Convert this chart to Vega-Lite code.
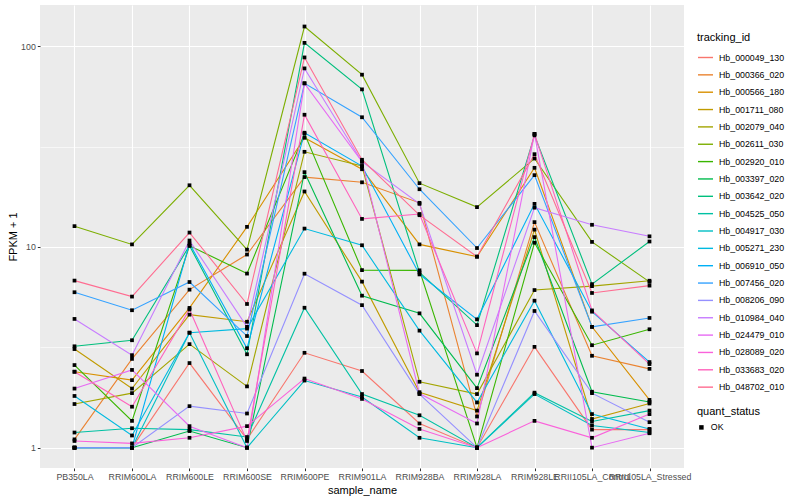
{
"$schema": "https://vega.github.io/schema/vega-lite/v6.json",
"width": 644, "height": 463,
"autosize": {"type": "none"},
"padding": {"left": 40, "top": 5, "right": 116, "bottom": 32},
"background": "white",
"config": {
  "view": {"fill": "#EBEBEB", "stroke": null},
  "font": "Liberation Sans",
  "axis": {"domain": false, "grid": true, "gridColor": "white", "gridWidth": 1.1, "tickColor": "#333333", "tickSize": 2.7, "tickWidth": 1, "labelFontSize": 8.8, "labelColor": "#4D4D4D", "labelFont": "Liberation Sans", "labelPadding": 2, "titleFont": "Liberation Sans", "titleFontSize": 11, "titleFontWeight": "normal", "titleColor": "black"},
  "legend": {"titleFont": "Liberation Sans", "titleFontSize": 11, "titleFontWeight": "normal", "titleColor": "black", "labelFont": "Liberation Sans", "labelFontSize": 8.8, "labelColor": "black", "titlePadding": 6, "labelOffset": 5}
},
"data": {"values": [
{"tracking_id":"Hb_000049_130","sample_name":"PB350LA","fpkm_plus_1":1,"quant_status":"OK"},
{"tracking_id":"Hb_000049_130","sample_name":"RRIM600LA","fpkm_plus_1":1,"quant_status":"OK"},
{"tracking_id":"Hb_000049_130","sample_name":"RRIM600LE","fpkm_plus_1":2.64,"quant_status":"OK"},
{"tracking_id":"Hb_000049_130","sample_name":"RRIM600SE","fpkm_plus_1":1.1,"quant_status":"OK"},
{"tracking_id":"Hb_000049_130","sample_name":"RRIM600PE","fpkm_plus_1":2.97,"quant_status":"OK"},
{"tracking_id":"Hb_000049_130","sample_name":"RRIM901LA","fpkm_plus_1":2.41,"quant_status":"OK"},
{"tracking_id":"Hb_000049_130","sample_name":"RRIM928BA","fpkm_plus_1":1.32,"quant_status":"OK"},
{"tracking_id":"Hb_000049_130","sample_name":"RRIM928LA","fpkm_plus_1":1,"quant_status":"OK"},
{"tracking_id":"Hb_000049_130","sample_name":"RRIM928LE","fpkm_plus_1":3.18,"quant_status":"OK"},
{"tracking_id":"Hb_000049_130","sample_name":"RRII105LA_Control","fpkm_plus_1":1.23,"quant_status":"OK"},
{"tracking_id":"Hb_000049_130","sample_name":"RRII105LA_Stressed","fpkm_plus_1":1.23,"quant_status":"OK"},
{"tracking_id":"Hb_000366_020","sample_name":"PB350LA","fpkm_plus_1":1.1,"quant_status":"OK"},
{"tracking_id":"Hb_000366_020","sample_name":"RRIM600LA","fpkm_plus_1":2.77,"quant_status":"OK"},
{"tracking_id":"Hb_000366_020","sample_name":"RRIM600LE","fpkm_plus_1":6.13,"quant_status":"OK"},
{"tracking_id":"Hb_000366_020","sample_name":"RRIM600SE","fpkm_plus_1":9.17,"quant_status":"OK"},
{"tracking_id":"Hb_000366_020","sample_name":"RRIM600PE","fpkm_plus_1":22.3,"quant_status":"OK"},
{"tracking_id":"Hb_000366_020","sample_name":"RRIM901LA","fpkm_plus_1":21.0,"quant_status":"OK"},
{"tracking_id":"Hb_000366_020","sample_name":"RRIM928BA","fpkm_plus_1":16.6,"quant_status":"OK"},
{"tracking_id":"Hb_000366_020","sample_name":"RRIM928LA","fpkm_plus_1":1.43,"quant_status":"OK"},
{"tracking_id":"Hb_000366_020","sample_name":"RRIM928LE","fpkm_plus_1":13.3,"quant_status":"OK"},
{"tracking_id":"Hb_000366_020","sample_name":"RRII105LA_Control","fpkm_plus_1":2.87,"quant_status":"OK"},
{"tracking_id":"Hb_000366_020","sample_name":"RRII105LA_Stressed","fpkm_plus_1":2.47,"quant_status":"OK"},
{"tracking_id":"Hb_000566_180","sample_name":"PB350LA","fpkm_plus_1":2.39,"quant_status":"OK"},
{"tracking_id":"Hb_000566_180","sample_name":"RRIM600LA","fpkm_plus_1":2.17,"quant_status":"OK"},
{"tracking_id":"Hb_000566_180","sample_name":"RRIM600LE","fpkm_plus_1":4.97,"quant_status":"OK"},
{"tracking_id":"Hb_000566_180","sample_name":"RRIM600SE","fpkm_plus_1":12.6,"quant_status":"OK"},
{"tracking_id":"Hb_000566_180","sample_name":"RRIM600PE","fpkm_plus_1":35.0,"quant_status":"OK"},
{"tracking_id":"Hb_000566_180","sample_name":"RRIM901LA","fpkm_plus_1":24.4,"quant_status":"OK"},
{"tracking_id":"Hb_000566_180","sample_name":"RRIM928BA","fpkm_plus_1":10.3,"quant_status":"OK"},
{"tracking_id":"Hb_000566_180","sample_name":"RRIM928LA","fpkm_plus_1":8.95,"quant_status":"OK"},
{"tracking_id":"Hb_000566_180","sample_name":"RRIM928LE","fpkm_plus_1":24.8,"quant_status":"OK"},
{"tracking_id":"Hb_000566_180","sample_name":"RRII105LA_Control","fpkm_plus_1":4.0,"quant_status":"OK"},
{"tracking_id":"Hb_000566_180","sample_name":"RRII105LA_Stressed","fpkm_plus_1":1.73,"quant_status":"OK"},
{"tracking_id":"Hb_001711_080","sample_name":"PB350LA","fpkm_plus_1":3.1,"quant_status":"OK"},
{"tracking_id":"Hb_001711_080","sample_name":"RRIM600LA","fpkm_plus_1":1.97,"quant_status":"OK"},
{"tracking_id":"Hb_001711_080","sample_name":"RRIM600LE","fpkm_plus_1":4.6,"quant_status":"OK"},
{"tracking_id":"Hb_001711_080","sample_name":"RRIM600SE","fpkm_plus_1":4.24,"quant_status":"OK"},
{"tracking_id":"Hb_001711_080","sample_name":"RRIM600PE","fpkm_plus_1":18.9,"quant_status":"OK"},
{"tracking_id":"Hb_001711_080","sample_name":"RRIM901LA","fpkm_plus_1":6.72,"quant_status":"OK"},
{"tracking_id":"Hb_001711_080","sample_name":"RRIM928BA","fpkm_plus_1":1.89,"quant_status":"OK"},
{"tracking_id":"Hb_001711_080","sample_name":"RRIM928LA","fpkm_plus_1":1.53,"quant_status":"OK"},
{"tracking_id":"Hb_001711_080","sample_name":"RRIM928LE","fpkm_plus_1":12.2,"quant_status":"OK"},
{"tracking_id":"Hb_001711_080","sample_name":"RRII105LA_Control","fpkm_plus_1":1.39,"quant_status":"OK"},
{"tracking_id":"Hb_001711_080","sample_name":"RRII105LA_Stressed","fpkm_plus_1":1.66,"quant_status":"OK"},
{"tracking_id":"Hb_002079_040","sample_name":"PB350LA","fpkm_plus_1":1.65,"quant_status":"OK"},
{"tracking_id":"Hb_002079_040","sample_name":"RRIM600LA","fpkm_plus_1":1.87,"quant_status":"OK"},
{"tracking_id":"Hb_002079_040","sample_name":"RRIM600LE","fpkm_plus_1":3.28,"quant_status":"OK"},
{"tracking_id":"Hb_002079_040","sample_name":"RRIM600SE","fpkm_plus_1":2.02,"quant_status":"OK"},
{"tracking_id":"Hb_002079_040","sample_name":"RRIM600PE","fpkm_plus_1":29.8,"quant_status":"OK"},
{"tracking_id":"Hb_002079_040","sample_name":"RRIM901LA","fpkm_plus_1":25.3,"quant_status":"OK"},
{"tracking_id":"Hb_002079_040","sample_name":"RRIM928BA","fpkm_plus_1":2.13,"quant_status":"OK"},
{"tracking_id":"Hb_002079_040","sample_name":"RRIM928LA","fpkm_plus_1":1.85,"quant_status":"OK"},
{"tracking_id":"Hb_002079_040","sample_name":"RRIM928LE","fpkm_plus_1":6.1,"quant_status":"OK"},
{"tracking_id":"Hb_002079_040","sample_name":"RRII105LA_Control","fpkm_plus_1":6.38,"quant_status":"OK"},
{"tracking_id":"Hb_002079_040","sample_name":"RRII105LA_Stressed","fpkm_plus_1":6.79,"quant_status":"OK"},
{"tracking_id":"Hb_002611_030","sample_name":"PB350LA","fpkm_plus_1":12.7,"quant_status":"OK"},
{"tracking_id":"Hb_002611_030","sample_name":"RRIM600LA","fpkm_plus_1":10.3,"quant_status":"OK"},
{"tracking_id":"Hb_002611_030","sample_name":"RRIM600LE","fpkm_plus_1":20.3,"quant_status":"OK"},
{"tracking_id":"Hb_002611_030","sample_name":"RRIM600SE","fpkm_plus_1":9.7,"quant_status":"OK"},
{"tracking_id":"Hb_002611_030","sample_name":"RRIM600PE","fpkm_plus_1":125.5,"quant_status":"OK"},
{"tracking_id":"Hb_002611_030","sample_name":"RRIM901LA","fpkm_plus_1":72.2,"quant_status":"OK"},
{"tracking_id":"Hb_002611_030","sample_name":"RRIM928BA","fpkm_plus_1":20.8,"quant_status":"OK"},
{"tracking_id":"Hb_002611_030","sample_name":"RRIM928LA","fpkm_plus_1":15.8,"quant_status":"OK"},
{"tracking_id":"Hb_002611_030","sample_name":"RRIM928LE","fpkm_plus_1":27.6,"quant_status":"OK"},
{"tracking_id":"Hb_002611_030","sample_name":"RRII105LA_Control","fpkm_plus_1":10.6,"quant_status":"OK"},
{"tracking_id":"Hb_002611_030","sample_name":"RRII105LA_Stressed","fpkm_plus_1":6.7,"quant_status":"OK"},
{"tracking_id":"Hb_002920_010","sample_name":"PB350LA","fpkm_plus_1":2.58,"quant_status":"OK"},
{"tracking_id":"Hb_002920_010","sample_name":"RRIM600LA","fpkm_plus_1":1.36,"quant_status":"OK"},
{"tracking_id":"Hb_002920_010","sample_name":"RRIM600LE","fpkm_plus_1":10.15,"quant_status":"OK"},
{"tracking_id":"Hb_002920_010","sample_name":"RRIM600SE","fpkm_plus_1":7.37,"quant_status":"OK"},
{"tracking_id":"Hb_002920_010","sample_name":"RRIM600PE","fpkm_plus_1":36.7,"quant_status":"OK"},
{"tracking_id":"Hb_002920_010","sample_name":"RRIM901LA","fpkm_plus_1":7.67,"quant_status":"OK"},
{"tracking_id":"Hb_002920_010","sample_name":"RRIM928BA","fpkm_plus_1":7.65,"quant_status":"OK"},
{"tracking_id":"Hb_002920_010","sample_name":"RRIM928LA","fpkm_plus_1":1,"quant_status":"OK"},
{"tracking_id":"Hb_002920_010","sample_name":"RRIM928LE","fpkm_plus_1":10.5,"quant_status":"OK"},
{"tracking_id":"Hb_002920_010","sample_name":"RRII105LA_Control","fpkm_plus_1":3.24,"quant_status":"OK"},
{"tracking_id":"Hb_002920_010","sample_name":"RRII105LA_Stressed","fpkm_plus_1":3.89,"quant_status":"OK"},
{"tracking_id":"Hb_003397_020","sample_name":"PB350LA","fpkm_plus_1":1,"quant_status":"OK"},
{"tracking_id":"Hb_003397_020","sample_name":"RRIM600LA","fpkm_plus_1":1,"quant_status":"OK"},
{"tracking_id":"Hb_003397_020","sample_name":"RRIM600LE","fpkm_plus_1":1.21,"quant_status":"OK"},
{"tracking_id":"Hb_003397_020","sample_name":"RRIM600SE","fpkm_plus_1":1,"quant_status":"OK"},
{"tracking_id":"Hb_003397_020","sample_name":"RRIM600PE","fpkm_plus_1":23.6,"quant_status":"OK"},
{"tracking_id":"Hb_003397_020","sample_name":"RRIM901LA","fpkm_plus_1":5.72,"quant_status":"OK"},
{"tracking_id":"Hb_003397_020","sample_name":"RRIM928BA","fpkm_plus_1":4.67,"quant_status":"OK"},
{"tracking_id":"Hb_003397_020","sample_name":"RRIM928LA","fpkm_plus_1":1.98,"quant_status":"OK"},
{"tracking_id":"Hb_003397_020","sample_name":"RRIM928LE","fpkm_plus_1":11.2,"quant_status":"OK"},
{"tracking_id":"Hb_003397_020","sample_name":"RRII105LA_Control","fpkm_plus_1":1.9,"quant_status":"OK"},
{"tracking_id":"Hb_003397_020","sample_name":"RRII105LA_Stressed","fpkm_plus_1":1.69,"quant_status":"OK"},
{"tracking_id":"Hb_003642_020","sample_name":"PB350LA","fpkm_plus_1":3.2,"quant_status":"OK"},
{"tracking_id":"Hb_003642_020","sample_name":"RRIM600LA","fpkm_plus_1":3.43,"quant_status":"OK"},
{"tracking_id":"Hb_003642_020","sample_name":"RRIM600LE","fpkm_plus_1":10.15,"quant_status":"OK"},
{"tracking_id":"Hb_003642_020","sample_name":"RRIM600SE","fpkm_plus_1":2.92,"quant_status":"OK"},
{"tracking_id":"Hb_003642_020","sample_name":"RRIM600PE","fpkm_plus_1":104,"quant_status":"OK"},
{"tracking_id":"Hb_003642_020","sample_name":"RRIM901LA","fpkm_plus_1":61,"quant_status":"OK"},
{"tracking_id":"Hb_003642_020","sample_name":"RRIM928BA","fpkm_plus_1":7.47,"quant_status":"OK"},
{"tracking_id":"Hb_003642_020","sample_name":"RRIM928LA","fpkm_plus_1":4.08,"quant_status":"OK"},
{"tracking_id":"Hb_003642_020","sample_name":"RRIM928LE","fpkm_plus_1":36.0,"quant_status":"OK"},
{"tracking_id":"Hb_003642_020","sample_name":"RRII105LA_Control","fpkm_plus_1":6.53,"quant_status":"OK"},
{"tracking_id":"Hb_003642_020","sample_name":"RRII105LA_Stressed","fpkm_plus_1":10.65,"quant_status":"OK"},
{"tracking_id":"Hb_004525_050","sample_name":"PB350LA","fpkm_plus_1":1.19,"quant_status":"OK"},
{"tracking_id":"Hb_004525_050","sample_name":"RRIM600LA","fpkm_plus_1":1.25,"quant_status":"OK"},
{"tracking_id":"Hb_004525_050","sample_name":"RRIM600LE","fpkm_plus_1":1.23,"quant_status":"OK"},
{"tracking_id":"Hb_004525_050","sample_name":"RRIM600SE","fpkm_plus_1":1.13,"quant_status":"OK"},
{"tracking_id":"Hb_004525_050","sample_name":"RRIM600PE","fpkm_plus_1":4.98,"quant_status":"OK"},
{"tracking_id":"Hb_004525_050","sample_name":"RRIM901LA","fpkm_plus_1":1.85,"quant_status":"OK"},
{"tracking_id":"Hb_004525_050","sample_name":"RRIM928BA","fpkm_plus_1":1.45,"quant_status":"OK"},
{"tracking_id":"Hb_004525_050","sample_name":"RRIM928LA","fpkm_plus_1":1,"quant_status":"OK"},
{"tracking_id":"Hb_004525_050","sample_name":"RRIM928LE","fpkm_plus_1":1.88,"quant_status":"OK"},
{"tracking_id":"Hb_004525_050","sample_name":"RRII105LA_Control","fpkm_plus_1":1.35,"quant_status":"OK"},
{"tracking_id":"Hb_004525_050","sample_name":"RRII105LA_Stressed","fpkm_plus_1":1.53,"quant_status":"OK"},
{"tracking_id":"Hb_004917_030","sample_name":"PB350LA","fpkm_plus_1":1,"quant_status":"OK"},
{"tracking_id":"Hb_004917_030","sample_name":"RRIM600LA","fpkm_plus_1":1,"quant_status":"OK"},
{"tracking_id":"Hb_004917_030","sample_name":"RRIM600LE","fpkm_plus_1":3.74,"quant_status":"OK"},
{"tracking_id":"Hb_004917_030","sample_name":"RRIM600SE","fpkm_plus_1":1,"quant_status":"OK"},
{"tracking_id":"Hb_004917_030","sample_name":"RRIM600PE","fpkm_plus_1":2.16,"quant_status":"OK"},
{"tracking_id":"Hb_004917_030","sample_name":"RRIM901LA","fpkm_plus_1":1.79,"quant_status":"OK"},
{"tracking_id":"Hb_004917_030","sample_name":"RRIM928BA","fpkm_plus_1":1.12,"quant_status":"OK"},
{"tracking_id":"Hb_004917_030","sample_name":"RRIM928LA","fpkm_plus_1":1,"quant_status":"OK"},
{"tracking_id":"Hb_004917_030","sample_name":"RRIM928LE","fpkm_plus_1":1.85,"quant_status":"OK"},
{"tracking_id":"Hb_004917_030","sample_name":"RRII105LA_Control","fpkm_plus_1":1.29,"quant_status":"OK"},
{"tracking_id":"Hb_004917_030","sample_name":"RRII105LA_Stressed","fpkm_plus_1":1.19,"quant_status":"OK"},
{"tracking_id":"Hb_005271_230","sample_name":"PB350LA","fpkm_plus_1":1.81,"quant_status":"OK"},
{"tracking_id":"Hb_005271_230","sample_name":"RRIM600LA","fpkm_plus_1":1.15,"quant_status":"OK"},
{"tracking_id":"Hb_005271_230","sample_name":"RRIM600LE","fpkm_plus_1":3.74,"quant_status":"OK"},
{"tracking_id":"Hb_005271_230","sample_name":"RRIM600SE","fpkm_plus_1":3.92,"quant_status":"OK"},
{"tracking_id":"Hb_005271_230","sample_name":"RRIM600PE","fpkm_plus_1":12.35,"quant_status":"OK"},
{"tracking_id":"Hb_005271_230","sample_name":"RRIM901LA","fpkm_plus_1":10.2,"quant_status":"OK"},
{"tracking_id":"Hb_005271_230","sample_name":"RRIM928BA","fpkm_plus_1":3.83,"quant_status":"OK"},
{"tracking_id":"Hb_005271_230","sample_name":"RRIM928LA","fpkm_plus_1":1.68,"quant_status":"OK"},
{"tracking_id":"Hb_005271_230","sample_name":"RRIM928LE","fpkm_plus_1":5.4,"quant_status":"OK"},
{"tracking_id":"Hb_005271_230","sample_name":"RRII105LA_Control","fpkm_plus_1":1.47,"quant_status":"OK"},
{"tracking_id":"Hb_005271_230","sample_name":"RRII105LA_Stressed","fpkm_plus_1":1.24,"quant_status":"OK"},
{"tracking_id":"Hb_006910_050","sample_name":"PB350LA","fpkm_plus_1":1,"quant_status":"OK"},
{"tracking_id":"Hb_006910_050","sample_name":"RRIM600LA","fpkm_plus_1":1,"quant_status":"OK"},
{"tracking_id":"Hb_006910_050","sample_name":"RRIM600LE","fpkm_plus_1":10.4,"quant_status":"OK"},
{"tracking_id":"Hb_006910_050","sample_name":"RRIM600SE","fpkm_plus_1":3.13,"quant_status":"OK"},
{"tracking_id":"Hb_006910_050","sample_name":"RRIM600PE","fpkm_plus_1":37.1,"quant_status":"OK"},
{"tracking_id":"Hb_006910_050","sample_name":"RRIM901LA","fpkm_plus_1":25.3,"quant_status":"OK"},
{"tracking_id":"Hb_006910_050","sample_name":"RRIM928BA","fpkm_plus_1":7.3,"quant_status":"OK"},
{"tracking_id":"Hb_006910_050","sample_name":"RRIM928LA","fpkm_plus_1":4.36,"quant_status":"OK"},
{"tracking_id":"Hb_006910_050","sample_name":"RRIM928LE","fpkm_plus_1":16.4,"quant_status":"OK"},
{"tracking_id":"Hb_006910_050","sample_name":"RRII105LA_Control","fpkm_plus_1":4.76,"quant_status":"OK"},
{"tracking_id":"Hb_006910_050","sample_name":"RRII105LA_Stressed","fpkm_plus_1":2.67,"quant_status":"OK"},
{"tracking_id":"Hb_007456_020","sample_name":"PB350LA","fpkm_plus_1":5.95,"quant_status":"OK"},
{"tracking_id":"Hb_007456_020","sample_name":"RRIM600LA","fpkm_plus_1":4.84,"quant_status":"OK"},
{"tracking_id":"Hb_007456_020","sample_name":"RRIM600LE","fpkm_plus_1":6.69,"quant_status":"OK"},
{"tracking_id":"Hb_007456_020","sample_name":"RRIM600SE","fpkm_plus_1":3.6,"quant_status":"OK"},
{"tracking_id":"Hb_007456_020","sample_name":"RRIM600PE","fpkm_plus_1":65.4,"quant_status":"OK"},
{"tracking_id":"Hb_007456_020","sample_name":"RRIM901LA","fpkm_plus_1":44.3,"quant_status":"OK"},
{"tracking_id":"Hb_007456_020","sample_name":"RRIM928BA","fpkm_plus_1":19.4,"quant_status":"OK"},
{"tracking_id":"Hb_007456_020","sample_name":"RRIM928LA","fpkm_plus_1":9.88,"quant_status":"OK"},
{"tracking_id":"Hb_007456_020","sample_name":"RRIM928LE","fpkm_plus_1":22.8,"quant_status":"OK"},
{"tracking_id":"Hb_007456_020","sample_name":"RRII105LA_Control","fpkm_plus_1":4.0,"quant_status":"OK"},
{"tracking_id":"Hb_007456_020","sample_name":"RRII105LA_Stressed","fpkm_plus_1":4.43,"quant_status":"OK"},
{"tracking_id":"Hb_008206_090","sample_name":"PB350LA","fpkm_plus_1":1,"quant_status":"OK"},
{"tracking_id":"Hb_008206_090","sample_name":"RRIM600LA","fpkm_plus_1":1,"quant_status":"OK"},
{"tracking_id":"Hb_008206_090","sample_name":"RRIM600LE","fpkm_plus_1":1.61,"quant_status":"OK"},
{"tracking_id":"Hb_008206_090","sample_name":"RRIM600SE","fpkm_plus_1":1.48,"quant_status":"OK"},
{"tracking_id":"Hb_008206_090","sample_name":"RRIM600PE","fpkm_plus_1":7.36,"quant_status":"OK"},
{"tracking_id":"Hb_008206_090","sample_name":"RRIM901LA","fpkm_plus_1":5.13,"quant_status":"OK"},
{"tracking_id":"Hb_008206_090","sample_name":"RRIM928BA","fpkm_plus_1":1.85,"quant_status":"OK"},
{"tracking_id":"Hb_008206_090","sample_name":"RRIM928LA","fpkm_plus_1":1,"quant_status":"OK"},
{"tracking_id":"Hb_008206_090","sample_name":"RRIM928LE","fpkm_plus_1":4.8,"quant_status":"OK"},
{"tracking_id":"Hb_008206_090","sample_name":"RRII105LA_Control","fpkm_plus_1":1.87,"quant_status":"OK"},
{"tracking_id":"Hb_008206_090","sample_name":"RRII105LA_Stressed","fpkm_plus_1":1.34,"quant_status":"OK"},
{"tracking_id":"Hb_010984_040","sample_name":"PB350LA","fpkm_plus_1":4.38,"quant_status":"OK"},
{"tracking_id":"Hb_010984_040","sample_name":"RRIM600LA","fpkm_plus_1":2.89,"quant_status":"OK"},
{"tracking_id":"Hb_010984_040","sample_name":"RRIM600LE","fpkm_plus_1":10.77,"quant_status":"OK"},
{"tracking_id":"Hb_010984_040","sample_name":"RRIM600SE","fpkm_plus_1":4.0,"quant_status":"OK"},
{"tracking_id":"Hb_010984_040","sample_name":"RRIM600PE","fpkm_plus_1":77.6,"quant_status":"OK"},
{"tracking_id":"Hb_010984_040","sample_name":"RRIM901LA","fpkm_plus_1":26.6,"quant_status":"OK"},
{"tracking_id":"Hb_010984_040","sample_name":"RRIM928BA","fpkm_plus_1":16.4,"quant_status":"OK"},
{"tracking_id":"Hb_010984_040","sample_name":"RRIM928LA","fpkm_plus_1":2.31,"quant_status":"OK"},
{"tracking_id":"Hb_010984_040","sample_name":"RRIM928LE","fpkm_plus_1":15.7,"quant_status":"OK"},
{"tracking_id":"Hb_010984_040","sample_name":"RRII105LA_Control","fpkm_plus_1":12.9,"quant_status":"OK"},
{"tracking_id":"Hb_010984_040","sample_name":"RRII105LA_Stressed","fpkm_plus_1":11.3,"quant_status":"OK"},
{"tracking_id":"Hb_024479_010","sample_name":"PB350LA","fpkm_plus_1":1.97,"quant_status":"OK"},
{"tracking_id":"Hb_024479_010","sample_name":"RRIM600LA","fpkm_plus_1":2.44,"quant_status":"OK"},
{"tracking_id":"Hb_024479_010","sample_name":"RRIM600LE","fpkm_plus_1":1.28,"quant_status":"OK"},
{"tracking_id":"Hb_024479_010","sample_name":"RRIM600SE","fpkm_plus_1":1,"quant_status":"OK"},
{"tracking_id":"Hb_024479_010","sample_name":"RRIM600PE","fpkm_plus_1":65.4,"quant_status":"OK"},
{"tracking_id":"Hb_024479_010","sample_name":"RRIM901LA","fpkm_plus_1":26.6,"quant_status":"OK"},
{"tracking_id":"Hb_024479_010","sample_name":"RRIM928BA","fpkm_plus_1":1.86,"quant_status":"OK"},
{"tracking_id":"Hb_024479_010","sample_name":"RRIM928LA","fpkm_plus_1":1.32,"quant_status":"OK"},
{"tracking_id":"Hb_024479_010","sample_name":"RRIM928LE","fpkm_plus_1":36.6,"quant_status":"OK"},
{"tracking_id":"Hb_024479_010","sample_name":"RRII105LA_Control","fpkm_plus_1":1,"quant_status":"OK"},
{"tracking_id":"Hb_024479_010","sample_name":"RRII105LA_Stressed","fpkm_plus_1":1.18,"quant_status":"OK"},
{"tracking_id":"Hb_028089_020","sample_name":"PB350LA","fpkm_plus_1":1.08,"quant_status":"OK"},
{"tracking_id":"Hb_028089_020","sample_name":"RRIM600LA","fpkm_plus_1":1.05,"quant_status":"OK"},
{"tracking_id":"Hb_028089_020","sample_name":"RRIM600LE","fpkm_plus_1":1.12,"quant_status":"OK"},
{"tracking_id":"Hb_028089_020","sample_name":"RRIM600SE","fpkm_plus_1":1.28,"quant_status":"OK"},
{"tracking_id":"Hb_028089_020","sample_name":"RRIM600PE","fpkm_plus_1":2.21,"quant_status":"OK"},
{"tracking_id":"Hb_028089_020","sample_name":"RRIM901LA","fpkm_plus_1":1.75,"quant_status":"OK"},
{"tracking_id":"Hb_028089_020","sample_name":"RRIM928BA","fpkm_plus_1":1.24,"quant_status":"OK"},
{"tracking_id":"Hb_028089_020","sample_name":"RRIM928LA","fpkm_plus_1":1,"quant_status":"OK"},
{"tracking_id":"Hb_028089_020","sample_name":"RRIM928LE","fpkm_plus_1":1.36,"quant_status":"OK"},
{"tracking_id":"Hb_028089_020","sample_name":"RRII105LA_Control","fpkm_plus_1":1.12,"quant_status":"OK"},
{"tracking_id":"Hb_028089_020","sample_name":"RRII105LA_Stressed","fpkm_plus_1":1.47,"quant_status":"OK"},
{"tracking_id":"Hb_033683_020","sample_name":"PB350LA","fpkm_plus_1":2.39,"quant_status":"OK"},
{"tracking_id":"Hb_033683_020","sample_name":"RRIM600LA","fpkm_plus_1":1.6,"quant_status":"OK"},
{"tracking_id":"Hb_033683_020","sample_name":"RRIM600LE","fpkm_plus_1":4.88,"quant_status":"OK"},
{"tracking_id":"Hb_033683_020","sample_name":"RRIM600SE","fpkm_plus_1":1.08,"quant_status":"OK"},
{"tracking_id":"Hb_033683_020","sample_name":"RRIM600PE","fpkm_plus_1":45.6,"quant_status":"OK"},
{"tracking_id":"Hb_033683_020","sample_name":"RRIM901LA","fpkm_plus_1":13.8,"quant_status":"OK"},
{"tracking_id":"Hb_033683_020","sample_name":"RRIM928BA","fpkm_plus_1":14.6,"quant_status":"OK"},
{"tracking_id":"Hb_033683_020","sample_name":"RRIM928LA","fpkm_plus_1":2.95,"quant_status":"OK"},
{"tracking_id":"Hb_033683_020","sample_name":"RRIM928LE","fpkm_plus_1":36.6,"quant_status":"OK"},
{"tracking_id":"Hb_033683_020","sample_name":"RRII105LA_Control","fpkm_plus_1":4.83,"quant_status":"OK"},
{"tracking_id":"Hb_033683_020","sample_name":"RRII105LA_Stressed","fpkm_plus_1":2.61,"quant_status":"OK"},
{"tracking_id":"Hb_048702_010","sample_name":"PB350LA","fpkm_plus_1":6.8,"quant_status":"OK"},
{"tracking_id":"Hb_048702_010","sample_name":"RRIM600LA","fpkm_plus_1":5.66,"quant_status":"OK"},
{"tracking_id":"Hb_048702_010","sample_name":"RRIM600LE","fpkm_plus_1":11.8,"quant_status":"OK"},
{"tracking_id":"Hb_048702_010","sample_name":"RRIM600SE","fpkm_plus_1":5.2,"quant_status":"OK"},
{"tracking_id":"Hb_048702_010","sample_name":"RRIM600PE","fpkm_plus_1":88,"quant_status":"OK"},
{"tracking_id":"Hb_048702_010","sample_name":"RRIM901LA","fpkm_plus_1":27.2,"quant_status":"OK"},
{"tracking_id":"Hb_048702_010","sample_name":"RRIM928BA","fpkm_plus_1":14.4,"quant_status":"OK"},
{"tracking_id":"Hb_048702_010","sample_name":"RRIM928LA","fpkm_plus_1":8.95,"quant_status":"OK"},
{"tracking_id":"Hb_048702_010","sample_name":"RRIM928LE","fpkm_plus_1":29.0,"quant_status":"OK"},
{"tracking_id":"Hb_048702_010","sample_name":"RRII105LA_Control","fpkm_plus_1":5.9,"quant_status":"OK"},
{"tracking_id":"Hb_048702_010","sample_name":"RRII105LA_Stressed","fpkm_plus_1":6.42,"quant_status":"OK"}
]},
"encoding": {
  "x": {"field": "sample_name", "type": "nominal",
        "sort": ["PB350LA","RRIM600LA","RRIM600LE","RRIM600SE","RRIM600PE","RRIM901LA","RRIM928BA","RRIM928LA","RRIM928LE","RRII105LA_Control","RRII105LA_Stressed"],
        "scale": {"type": "point", "padding": 0.6},
        "axis": {"title": "sample_name", "labelAngle": 0, "labelOverlap": false, "labelBound": false, "labelFlush": false, "titlePadding": 3}},
  "y": {"field": "fpkm_plus_1", "type": "quantitative",
        "scale": {"type": "log", "domain": [0.792, 160.6], "nice": false, "zero": false},
        "axis": {"title": "FPKM + 1", "values": [1, 3.1623, 10, 31.623, 100], "format": "~g",
                 "labelExpr": "(datum.value > 2 && datum.value < 5) || (datum.value > 20 && datum.value < 50) ? '' : datum.label",
                 "gridWidth": {"condition": {"test": "(datum.value > 2 && datum.value < 5) || (datum.value > 20 && datum.value < 50)", "value": 0.6}, "value": 1.1},
                 "tickOpacity": {"condition": {"test": "(datum.value > 2 && datum.value < 5) || (datum.value > 20 && datum.value < 50)", "value": 0}, "value": 1},
                 "titlePadding": 2}}
},
"layer": [
  {"mark": {"type": "line", "strokeWidth": 1.1},
   "encoding": {"color": {"field": "tracking_id", "type": "nominal",
     "scale": {"range": ["#F8766D","#EA8331","#D89000","#C09B00","#A3A500","#7CAE00","#39B600","#00BB4E","#00BF7D","#00C1A3","#00BFC4","#00BAE0","#00B0F6","#35A2FF","#9590FF","#C77CFF","#E76BF3","#FA62DB","#FF62BC","#FF6C91"]},
     "legend": {"title": "tracking_id", "orient": "none", "legendX": 657, "legendY": 27, "symbolSize": 225, "symbolStrokeWidth": 1.4, "rowPadding": 3.35}}}},
  {"mark": {"type": "point", "filled": true, "size": 14, "opacity": 1},
   "encoding": {"color": {"value": "black"},
     "shape": {"field": "quant_status", "type": "nominal", "scale": {"range": ["square"]},
       "legend": {"title": "quant_status", "orient": "none", "legendX": 657, "legendY": 401, "symbolSize": 20, "symbolFillColor": "black", "symbolStrokeColor": "black"}}}}
]
}
